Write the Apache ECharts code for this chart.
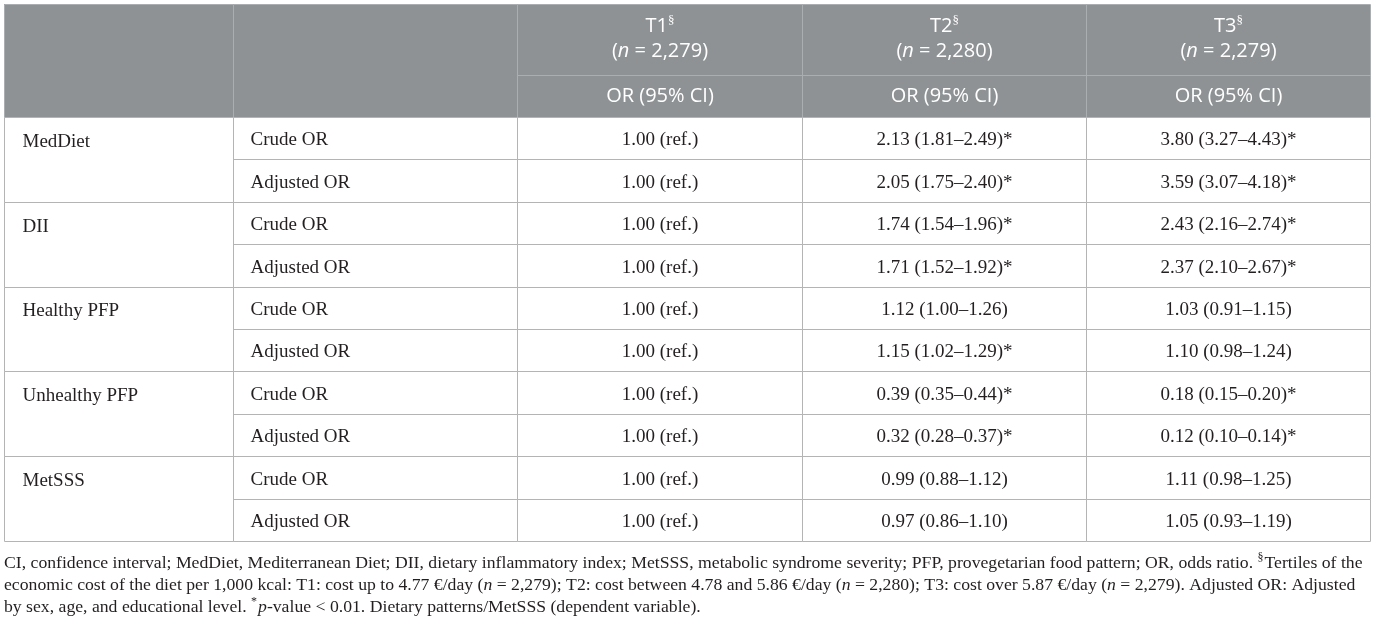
<!DOCTYPE html>
<html>
<head>
<meta charset="utf-8">
<script src="https://cdn.jsdelivr.net/npm/echarts@6/dist/echarts.min.js"></script>
<style>
  html, body { margin: 0; padding: 0; background: #fff; }
  #main { width: 1375px; height: 626px; }
</style>
</head>
<body>
<div id="main"></div>
<script>
// ---- table content ----
const groups = ['MedDiet', 'DII', 'Healthy PFP', 'Unhealthy PFP', 'MetSSS'];
const models = ['Crude OR', 'Adjusted OR'];
const tertiles = ['T1', 'T2', 'T3'];
const tertileN = ['2,279', '2,280', '2,279'];
const colHead = 'OR (95% CI)';
const refLabel = '1.00 (ref.)';

// one entry per row: crude / adjusted for each group, in order
const t2Or  = [2.13, 2.05, 1.74, 1.71, 1.12, 1.15, 0.39, 0.32, 0.99, 0.97];
const t2Lo  = [1.81, 1.75, 1.54, 1.52, 1.00, 1.02, 0.35, 0.28, 0.88, 0.86];
const t2Hi  = [2.49, 2.40, 1.96, 1.92, 1.26, 1.29, 0.44, 0.37, 1.12, 1.10];
const t2Sig = [1, 1, 1, 1, 0, 1, 1, 1, 0, 0];
const t3Or  = [3.80, 3.59, 2.43, 2.37, 1.03, 1.10, 0.18, 0.12, 1.11, 1.05];
const t3Lo  = [3.27, 3.07, 2.16, 2.10, 0.91, 0.98, 0.15, 0.10, 0.98, 0.93];
const t3Hi  = [4.43, 4.18, 2.74, 2.67, 1.15, 1.24, 0.20, 0.14, 1.25, 1.19];
const t3Sig = [1, 1, 1, 1, 0, 0, 1, 1, 0, 0];

const footnote = [
  'CI, confidence interval; MedDiet, Mediterranean Diet; DII, dietary inflammatory index; MetSSS, metabolic syndrome severity; PFP, provegetarian food pattern; OR, odds ratio. {sup|§}Tertiles of the',
  'economic cost of the diet per 1,000 kcal: T1: cost up to 4.77 €/day ({it|n} = 2,279); T2: cost between 4.78 and 5.86 €/day ({it|n} = 2,280); T3: cost over 5.87 €/day ({it|n} = 2,279). Adjusted OR: Adjusted',
  'by sex, age, and educational level. {sup|*}{it|p}-value < 0.01. Dietary patterns/MetSSS (dependent variable).'
];

// ---- look ----
const HEAD_BG = '#8e9295';
const HEAD_LINE = '#abaeb0';
const LINE = '#b4b4b4';
const TEXT = '#231f20';
const SERIF = '"Liberation Serif", "Times New Roman", serif';
const SANS = '"Open Sans", "Noto Sans", sans-serif';
const NOTE_SIZE = 17.7;

const colKeys = ['model'].concat(tertiles);
const rowKeys = [];
groups.forEach(g => models.forEach(m => rowKeys.push(g + ' / ' + m)));

const fmt = (o, l, h, s) => o.toFixed(2) + ' (' + l.toFixed(2) + '–' + h.toFixed(2) + ')' + (s ? '*' : '');

const bodyCells = [];
rowKeys.forEach((k, r) => {
  bodyCells.push({c: 0, r: r, text: models[r % 2]});
  bodyCells.push({c: 1, r: r, text: refLabel});
  bodyCells.push({c: 2, r: r, text: fmt(t2Or[r], t2Lo[r], t2Hi[r], t2Sig[r])});
  bodyCells.push({c: 3, r: r, text: fmt(t3Or[r], t3Lo[r], t3Hi[r], t3Sig[r])});
});

// cell box from the category bands
function cellBox(api) {
  const p = api.coord([api.value(0), api.value(1)]);
  const s = api.size([1, 1]);
  const x0 = Math.round(p[0] - s[0] / 2) + 0.5;
  const y0 = Math.round(p[1] - s[1] / 2) + 0.5;
  const x1 = Math.round(p[0] + s[0] / 2) + 0.5;
  const y1 = Math.round(p[1] + s[1] / 2) + 0.5;
  return {x0, y0, x1, y1, w: x1 - x0, h: y1 - y0};
}

function boxRect(b, stroke) {
  return {type: 'rect', shape: {x: b.x0, y: b.y0, width: b.w, height: b.h},
    style: {fill: null, stroke: stroke, lineWidth: 1}};
}

const serifStyle = {fontFamily: SERIF, fontSize: 19, fill: TEXT};

const hidden = {show: false};
function catAxis(gridIndex, data, inverse) {
  return {type: 'category', gridIndex, data, inverse: !!inverse,
    axisLine: hidden, axisTick: hidden, axisLabel: hidden, splitLine: hidden};
}

const headGrid = {show: true, backgroundColor: HEAD_BG, borderWidth: 0};

const option = {
  animation: false,
  title: {
    text: footnote.join('\n'),
    left: 4, top: 552, padding: 0,
    textStyle: {
      fontFamily: SERIF, fontSize: NOTE_SIZE, fontWeight: 'normal', color: TEXT, lineHeight: 22,
      rich: {
        it: {fontFamily: SERIF, fontSize: NOTE_SIZE, fontStyle: 'italic', color: TEXT, lineHeight: 22},
        sup: {fontFamily: SERIF, fontSize: 12, color: TEXT, verticalAlign: 'top', lineHeight: 22, padding: [0, 1, 6, 0]}
      }
    }
  },
  grid: [
    Object.assign({left: 4, top: 4, width: 229, height: 113}, headGrid),   // header, label column
    Object.assign({left: 233, top: 4, right: 5, height: 71}, headGrid),    // header, tertiles
    Object.assign({left: 233, top: 75, right: 5, height: 42}, headGrid),   // header, OR (95% CI)
    {left: 4, top: 117, width: 229, height: 424},                           // body, groups
    {left: 233, top: 117, right: 5, height: 424}                            // body, values
  ],
  xAxis: [
    catAxis(0, ['label']),
    catAxis(1, colKeys),
    catAxis(2, colKeys),
    catAxis(3, ['label']),
    catAxis(4, colKeys)
  ],
  yAxis: [
    catAxis(0, ['head']),
    catAxis(1, ['tertile']),
    catAxis(2, ['measure']),
    catAxis(3, groups, true),
    catAxis(4, rowKeys, true)
  ],
  series: [
    {
      type: 'custom', xAxisIndex: 0, yAxisIndex: 0,
      data: [[0, 0]],
      renderItem: (params, api) => boxRect(cellBox(api), HEAD_LINE)
    },
    {
      type: 'custom', xAxisIndex: 1, yAxisIndex: 1,
      data: [[0, 0], [1, 0], [2, 0], [3, 0]],
      renderItem: (params, api) => {
        const b = cellBox(api);
        const c = api.value(0);
        if (c === 0) {
          return {type: 'line', shape: {x1: b.x0, y1: b.y0, x2: b.x1, y2: b.y0},
            style: {stroke: HEAD_LINE, lineWidth: 1}};
        }
        return {type: 'group', children: [
          boxRect(b, HEAD_LINE),
          {type: 'text', x: (b.x0 + b.x1) / 2, y: (b.y0 + b.y1) / 2 - 1,
            style: {
              text: tertiles[c - 1] + '{sup|§}\n(' + '{it|n}' + ' = ' + tertileN[c - 1] + ')',
              fontFamily: SANS, fontSize: 20, fill: '#fff', lineHeight: 25,
              align: 'center', verticalAlign: 'middle',
              rich: {
                sup: {fontFamily: SERIF, fontSize: 13, fill: '#fff', verticalAlign: 'top', lineHeight: 25, padding: [0, 0, 8, 0]},
                it: {fontFamily: SANS, fontSize: 20, fontStyle: 'italic', fill: '#fff', lineHeight: 25}
              }
            }}
        ]};
      }
    },
    {
      type: 'custom', xAxisIndex: 2, yAxisIndex: 2,
      data: [[1, 0], [2, 0], [3, 0]],
      renderItem: (params, api) => {
        const b = cellBox(api);
        return {type: 'group', children: [
          boxRect(b, HEAD_LINE),
          {type: 'text', x: (b.x0 + b.x1) / 2, y: (b.y0 + b.y1) / 2,
            style: {text: colHead, fontFamily: SANS, fontSize: 20, fill: '#fff',
              align: 'center', verticalAlign: 'middle'}}
        ]};
      }
    },
    {
      type: 'custom', xAxisIndex: 3, yAxisIndex: 3,
      data: groups.map((g, i) => [0, i]),
      renderItem: (params, api) => {
        const b = cellBox(api);
        return {type: 'group', children: [
          boxRect(b, LINE),
          {type: 'text', x: b.x0 + 18, y: b.y0 + b.h / 4 + 3,
            style: Object.assign({text: groups[params.dataIndex], align: 'left', verticalAlign: 'middle'}, serifStyle)}
        ]};
      }
    },
    {
      type: 'custom', xAxisIndex: 4, yAxisIndex: 4,
      data: bodyCells.map(d => [d.c, d.r]),
      renderItem: (params, api) => {
        const d = bodyCells[params.dataIndex];
        const b = cellBox(api);
        const left = d.c === 0;
        return {type: 'group', children: [
          boxRect(b, LINE),
          {type: 'text', x: left ? b.x0 + 17 : (b.x0 + b.x1) / 2, y: (b.y0 + b.y1) / 2 + 2,
            style: Object.assign({text: d.text, align: left ? 'left' : 'center', verticalAlign: 'middle'}, serifStyle)}
        ]};
      }
    }
  ]
};

const chart = echarts.init(document.getElementById('main'));
chart.setOption(option);
</script>
</body>
</html>
